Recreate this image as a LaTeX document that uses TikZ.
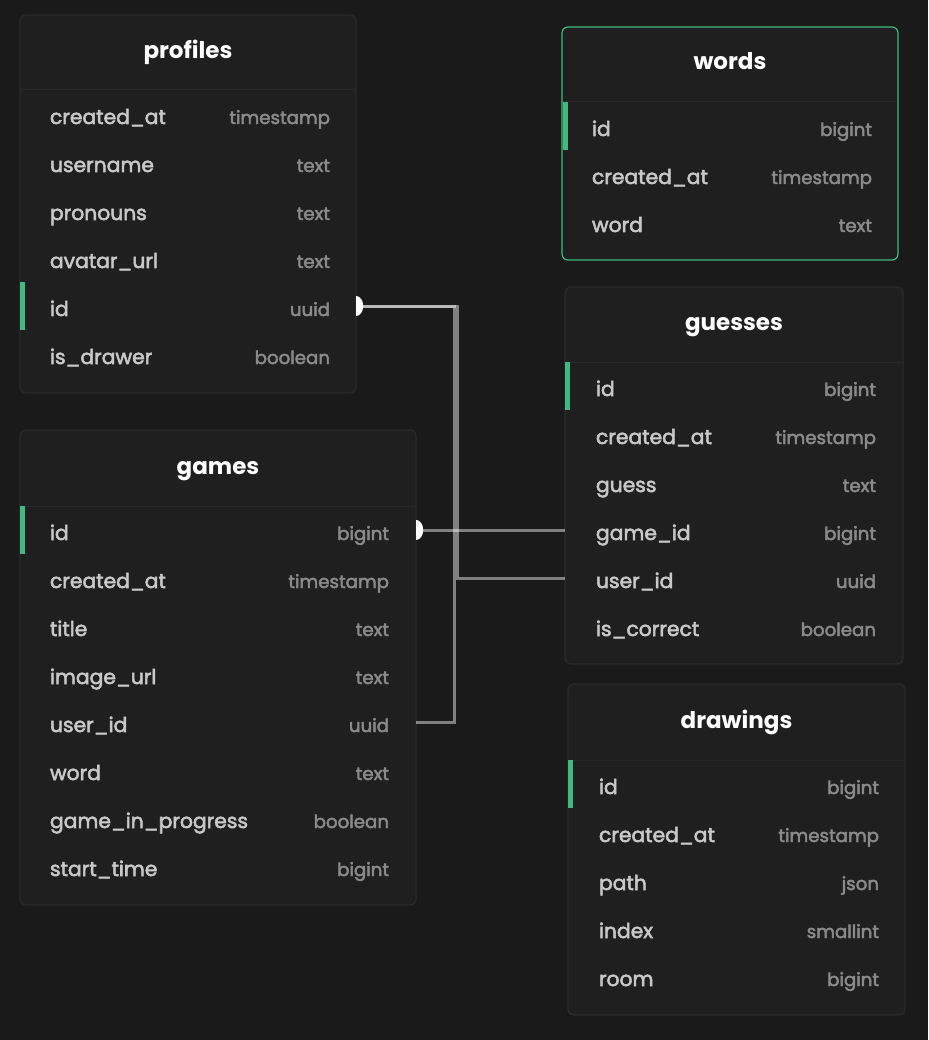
\documentclass[tikz,border=0pt]{standalone}
\usepackage{fontspec}
\setmainfont{Poppins}
\newfontfamily\rowfont{Poppins}[FakeBold=2.6]
\usepackage{tikz}

\definecolor{bg}{HTML}{1A1A1A}
\definecolor{tablefill}{HTML}{1F1F1F}
\definecolor{tableline}{HTML}{2A2A2A}
\definecolor{sepline}{HTML}{272727}
\definecolor{keygreen}{HTML}{3FB97F}
\definecolor{colgrey}{HTML}{C8C8C8}
\definecolor{typegrey}{HTML}{8A8A8A}

\begin{document}
\begin{tikzpicture}[x=1pt, y=-1pt,
    tablebox/.style={fill=tablefill, draw=tableline, line width=1.2pt, rounded corners=6pt},
    headline/.style={draw=sepline, line width=1pt},
    tabletitle/.style={anchor=base, text=white, inner sep=0pt, font=\fontsize{23}{26}\selectfont\bfseries},
    rowslot/.style={minimum height=48pt, inner sep=0pt},
    colname/.style={anchor=base west, text=colgrey, inner sep=0pt, font=\rowfont\fontsize{20.3}{24}\selectfont},
    coltype/.style={anchor=base east, text=typegrey, inner sep=0pt, font=\rowfont\fontsize{18.2}{21}\selectfont},
    relation/.style={draw=white, draw opacity=.45, line width=3pt},
    onemark/.style={fill=white}]
  \fill[bg] (0,0) rectangle (928,1040);
  \useasboundingbox (0,0) rectangle (928,1040);

  %%% profiles
  \draw[tablebox] (20,15) rectangle (356,393);
  \draw[headline] (20,90) -- (356,90);
  \node[tabletitle] (profiles) at (188,59) {profiles};
  \foreach \col/\typ [count=\i] in {created\_at/timestamp, username/text, pronouns/text, avatar\_url/text, id/uuid, is\_drawer/boolean} {
    \node[rowslot, minimum width=336pt] (profiles-\i) at (188, {66+48*\i}) {};
    \node[colname] (profiles-\i-col) at ([xshift=30pt, yshift=-10pt]profiles-\i.west) {\col};
    \node[coltype] (profiles-\i-type) at ([xshift=-26pt, yshift=-10pt]profiles-\i.east) {\typ};
  }
  \fill[keygreen] (profiles-5.north west) rectangle ([xshift=5pt]profiles-5.south west);

  %%% words
  \draw[tablebox, draw=keygreen] (562,27) rectangle (898,260);
  \draw[headline] (563,102) -- (897,102);
  \node[tabletitle] (words) at (730,70) {words};
  \foreach \col/\typ [count=\i] in {id/bigint, created\_at/timestamp, word/text} {
    \node[rowslot, minimum width=336pt] (words-\i) at (730, {78+48*\i}) {};
    \node[colname] (words-\i-col) at ([xshift=30pt, yshift=-10pt]words-\i.west) {\col};
    \node[coltype] (words-\i-type) at ([xshift=-26pt, yshift=-10pt]words-\i.east) {\typ};
  }
  \fill[keygreen] ([xshift=1pt]words-1.north west) rectangle ([xshift=6pt]words-1.south west);

  %%% guesses
  \draw[tablebox] (565,287) rectangle (903,664);
  \draw[headline] (565,362) -- (903,362);
  \node[tabletitle] (guesses) at (734,330) {guesses};
  \foreach \col/\typ [count=\i] in {id/bigint, created\_at/timestamp, guess/text, game\_id/bigint, user\_id/uuid, is\_correct/boolean} {
    \node[rowslot, minimum width=338pt] (guesses-\i) at (734, {338+48*\i}) {};
    \node[colname] (guesses-\i-col) at ([xshift=31pt, yshift=-10pt]guesses-\i.west) {\col};
    \node[coltype] (guesses-\i-type) at ([xshift=-27pt, yshift=-10pt]guesses-\i.east) {\typ};
  }
  \fill[keygreen] (guesses-1.north west) rectangle ([xshift=5pt]guesses-1.south west);

  %%% games
  \draw[tablebox] (20,430) rectangle (416,905);
  \draw[headline] (20,506) -- (416,506);
  \node[tabletitle] (games) at (218,474) {games};
  \foreach \col/\typ [count=\i] in {id/bigint, created\_at/timestamp, title/text, image\_url/text, user\_id/uuid, word/text, game\_in\_progress/boolean, start\_time/bigint} {
    \node[rowslot, minimum width=396pt] (games-\i) at (218, {482+48*\i}) {};
    \node[colname] (games-\i-col) at ([xshift=30pt, yshift=-10pt]games-\i.west) {\col};
    \node[coltype] (games-\i-type) at ([xshift=-27pt, yshift=-10pt]games-\i.east) {\typ};
  }
  \fill[keygreen] (games-1.north west) rectangle ([xshift=5pt]games-1.south west);

  %%% drawings
  \draw[tablebox] (568,684) rectangle (905,1015);
  \draw[headline] (568,760) -- (905,760);
  \node[tabletitle] (drawings) at (736.5,728) {drawings};
  \foreach \col/\typ [count=\i] in {id/bigint, created\_at/timestamp, path/json, index/smallint, room/bigint} {
    \node[rowslot, minimum width=337pt] (drawings-\i) at (736.5, {736+48*\i}) {};
    \node[colname] (drawings-\i-col) at ([xshift=31pt, yshift=-10pt]drawings-\i.west) {\col};
    \node[coltype] (drawings-\i-type) at ([xshift=-26pt, yshift=-10pt]drawings-\i.east) {\typ};
  }
  \fill[keygreen] (drawings-1.north west) rectangle ([xshift=5pt]drawings-1.south west);

  %%% relations
  \draw[relation] (profiles-5.east) -- ++(101,0) |- (guesses-5.west);
  \draw[relation] (profiles-5.east) -- ++(98,0) |- (games-5.east);
  \draw[relation] (games-1.east) -- (guesses-4.west);
  \fill[onemark] ([yshift=10pt]profiles-5.east) arc[start angle=90, end angle=-90, x radius=7pt, y radius=10pt];
  \fill[onemark] ([yshift=10pt]games-1.east) arc[start angle=90, end angle=-90, x radius=7pt, y radius=10pt];
\end{tikzpicture}
\end{document}
